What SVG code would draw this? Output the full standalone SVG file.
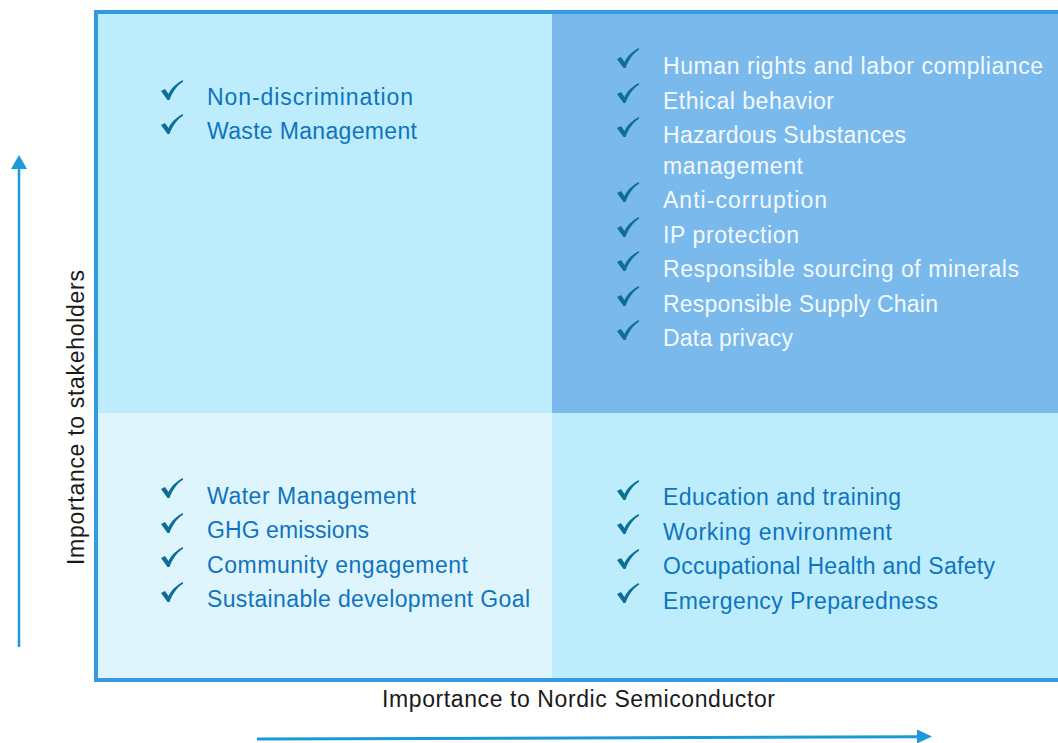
<svg xmlns="http://www.w3.org/2000/svg" width="1058" height="743" viewBox="0 0 1058 743">
<style>
.t{font-family:"Liberation Sans",Arial,sans-serif;font-size:23px;fill:#0f74bf}
.w{fill:#f3f9ff}
.ax{font-family:"Liberation Sans",Arial,sans-serif;font-size:23px;fill:#1a1a1a}
.ck{fill:#0b6f98}
.arr{stroke:#1a9ad8;fill:none}
.head{fill:#1a9ad8}
</style>
<defs>
<path id="chk" class="ck" d="M0,11 L4,9 L7.5,14 C10.5,8 15,3.5 22,0 L22,1.8 C16,5.5 11.5,12 8.5,20 L6.5,20 Z"/>
</defs>
<rect width="1058" height="743" fill="#ffffff"/>
<g id="quadrants">
<rect id="q-tl" x="96" y="12" width="456" height="401" fill="#bdedfd"/>
<rect id="q-tr" x="552" y="12" width="510" height="401" fill="#79b9ec"/>
<rect id="q-bl" x="96" y="413" width="456" height="267" fill="#dff5fd"/>
<rect id="q-br" x="552" y="413" width="510" height="267" fill="#bdedfd"/>
<rect id="frame" x="96" y="12" width="1000" height="668" fill="none" stroke="#3399e0" stroke-width="4"/>
</g>
<g id="node-tl">
<use href="#chk" x="161" y="80"/><text class="t" x="207" y="105" textLength="206" lengthAdjust="spacing">Non-discrimination</text>
<use href="#chk" x="161" y="114"/><text class="t" x="207" y="139" textLength="210" lengthAdjust="spacing">Waste Management</text>
</g>
<g id="node-tr">
<use href="#chk" x="617" y="48"/><text class="t w" x="663" y="74" textLength="380" lengthAdjust="spacing">Human rights and labor compliance</text>
<use href="#chk" x="617" y="83"/><text class="t w" x="663" y="109" textLength="171" lengthAdjust="spacing">Ethical behavior</text>
<use href="#chk" x="617" y="117"/><text class="t w" x="663" y="143" textLength="243" lengthAdjust="spacing">Hazardous Substances</text>
<text class="t w" x="663" y="174" textLength="140" lengthAdjust="spacing">management</text>
<use href="#chk" x="617" y="182"/><text class="t w" x="663" y="208" textLength="164" lengthAdjust="spacing">Anti-corruption</text>
<use href="#chk" x="617" y="217"/><text class="t w" x="663" y="243" textLength="136" lengthAdjust="spacing">IP protection</text>
<use href="#chk" x="617" y="251"/><text class="t w" x="663" y="277" textLength="356" lengthAdjust="spacing">Responsible sourcing of minerals</text>
<use href="#chk" x="617" y="286"/><text class="t w" x="663" y="312" textLength="275" lengthAdjust="spacing">Responsible Supply Chain</text>
<use href="#chk" x="617" y="320"/><text class="t w" x="663" y="346" textLength="130" lengthAdjust="spacing">Data privacy</text>
</g>
<g id="node-bl">
<use href="#chk" x="161" y="478"/><text class="t" x="207" y="504" textLength="209" lengthAdjust="spacing">Water Management</text>
<use href="#chk" x="161" y="513"/><text class="t" x="207" y="538" textLength="162" lengthAdjust="spacing">GHG emissions</text>
<use href="#chk" x="161" y="547"/><text class="t" x="207" y="573" textLength="261" lengthAdjust="spacing">Community engagement</text>
<use href="#chk" x="161" y="582"/><text class="t" x="207" y="607" textLength="323" lengthAdjust="spacing">Sustainable development Goal</text>
</g>
<g id="node-br">
<use href="#chk" x="617" y="480"/><text class="t" x="663" y="505" textLength="238" lengthAdjust="spacing">Education and training</text>
<use href="#chk" x="617" y="514"/><text class="t" x="663" y="540" textLength="229" lengthAdjust="spacing">Working environment</text>
<use href="#chk" x="617" y="549"/><text class="t" x="663" y="574" textLength="332" lengthAdjust="spacing">Occupational Health and Safety</text>
<use href="#chk" x="617" y="583"/><text class="t" x="663" y="609" textLength="275" lengthAdjust="spacing">Emergency Preparedness</text>
</g>
<g id="axis-labels">
<text class="ax" x="382" y="707" textLength="393" lengthAdjust="spacing">Importance to Nordic Semiconductor</text>
<text class="ax" transform="translate(84,565) rotate(-90)" x="0" y="0" textLength="295" lengthAdjust="spacing">Importance to stakeholders</text>
</g>
<g id="connectors">
<line class="arr" stroke-width="2.5" x1="19" y1="647" x2="19" y2="166"/>
<path class="head" d="M19,155 L27,169 L11,169 Z"/>
<line class="arr" stroke-width="3" x1="257" y1="739" x2="919" y2="736.8"/>
<path class="head" d="M932,736.5 L917,729.5 L917,743.5 Z"/>
</g>
</svg>
